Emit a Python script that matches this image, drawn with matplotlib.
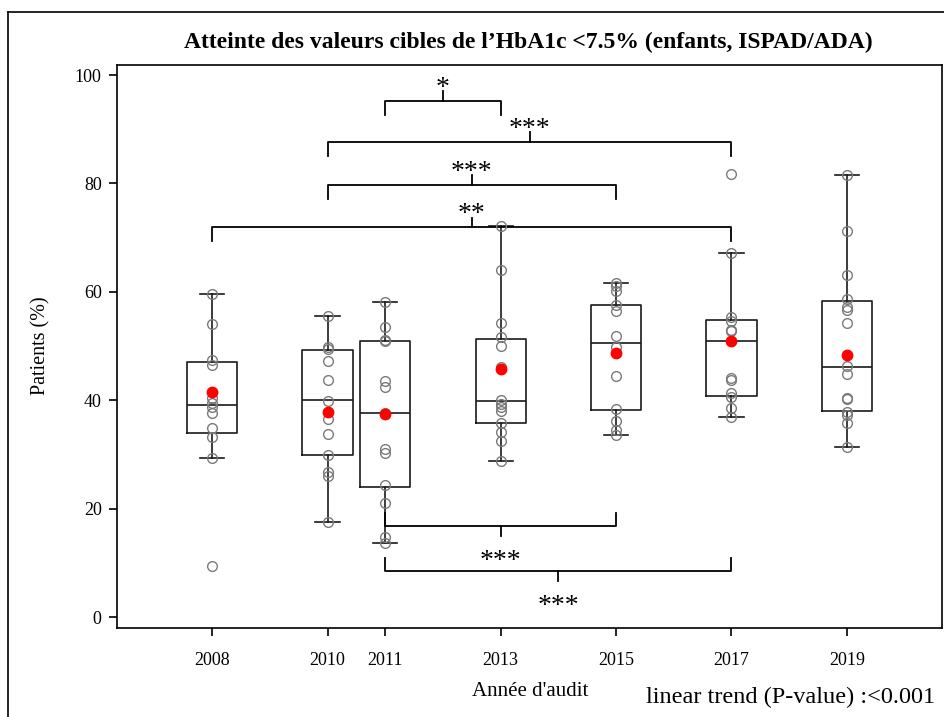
import matplotlib
matplotlib.use("Agg")
import matplotlib.pyplot as plt
from matplotlib.lines import Line2D

plt.rcParams["font.family"] = ["Liberation Serif", "DejaVu Serif"]

# --- Données : pourcentage de patients à l'objectif, par centre et par année ---
years = [2008, 2010, 2011, 2013, 2015, 2017, 2019]

pts_2008 = [59.6, 54.0, 47.4, 46.5, 40.4, 39.5, 38.8, 37.7, 34.9, 33.3, 29.3, 9.4]
pts_2010 = [55.6, 49.9, 49.5, 47.3, 43.8, 39.9, 36.6, 33.8, 29.9, 26.8, 26.1, 17.6]
pts_2011 = [58.2, 53.6, 51.2, 50.9, 43.6, 42.5, 37.7, 31.0, 30.3, 24.4, 21.1, 14.8, 13.6]
pts_2013 = [72.1, 64.1, 54.3, 51.6, 50.1, 46.2, 40.1, 39.4, 38.8, 38.1, 35.9, 34.2, 32.5, 28.8]
pts_2015 = [61.7, 61.0, 60.1, 57.5, 56.4, 51.9, 49.9, 44.5, 38.4, 36.2, 34.6, 33.6]
pts_2017 = [81.7, 67.1, 55.3, 54.7, 53.0, 52.7, 44.2, 43.8, 41.4, 40.7, 38.6, 37.0]
pts_2019 = [81.5, 71.2, 63.2, 58.6, 57.3, 56.6, 54.3, 46.4, 44.9, 40.5, 40.3, 37.9, 37.3, 35.9, 31.4]
points = [pts_2008, pts_2010, pts_2011, pts_2013, pts_2015, pts_2017, pts_2019]

# statistiques des boîtes
q1 = [34.0, 30.0, 24.0, 35.9, 38.3, 40.8, 38.1]
medians = [39.2, 40.0, 37.7, 39.9, 50.6, 51.0, 46.2]
q3 = [47.0, 49.2, 51.0, 51.4, 57.5, 54.9, 58.4]
whis_lo = [29.3, 17.6, 13.6, 28.8, 33.6, 37.0, 31.4]
whis_hi = [59.6, 55.6, 58.2, 72.1, 61.7, 67.1, 81.5]
means = [41.6, 37.9, 37.4, 45.8, 48.8, 51.0, 48.4]

# comparaisons par paires : (année 1, année 2, hauteur, sens, étiquette)
comparisons = [
    (2011, 2013, 95.2, "up", "*"),
    (2010, 2017, 87.6, "up", "***"),
    (2010, 2015, 79.7, "up", "***"),
    (2008, 2017, 71.9, "up", "**"),
    (2011, 2015, 16.8, "down", "***"),
    (2011, 2017, 8.5, "down", "***"),
]

fig = plt.figure(figsize=(9.45, 7.17), dpi=100)
ax = fig.add_axes([117 / 945, 1 - 628 / 717, 825 / 945, 563 / 717])

stats = []
for i in range(len(years)):
    stats.append({"q1": q1[i], "med": medians[i], "q3": q3[i],
                  "whislo": whis_lo[i], "whishi": whis_hi[i], "fliers": []})

dark = "#1a1a1a"
ax.bxp(stats, positions=years, widths=0.87, showfliers=False, showcaps=True,
       boxprops=dict(color=dark, linewidth=1.2),
       medianprops=dict(color=dark, linewidth=1.2),
       whiskerprops=dict(color=dark, linewidth=1.2),
       capprops=dict(color=dark, linewidth=1.2),
       capwidths=0.42, manage_ticks=False)

for yr, vals in zip(years, points):
    ax.plot([yr] * len(vals), vals, linestyle="none", marker="o", markersize=7,
            markerfacecolor="none", markeredgecolor="#7a7a7a", markeredgewidth=1.0,
            zorder=3)

ax.plot(years, means, linestyle="none", marker="o", markersize=7.5,
        color="#ff0000", zorder=4)

# --- crochets de significativité ---
leg = 2.5
tick = 1.8
star_shift = 2.2  # l'astérisque Times est dessiné au-dessus de la ligne de base
for x1, x2, y, side, label in comparisons:
    xm = (x1 + x2) / 2
    if side == "up":
        ax.plot([x1, x1, x2, x2], [y - leg, y, y, y - leg], color="black", lw=1.3)
        ax.plot([xm, xm], [y, y + tick], color="black", lw=1.3)
        ax.text(xm, y + tick + 1.5 - star_shift, label, ha="center", va="baseline", fontsize=20)
    else:
        ax.plot([x1, x1, x2, x2], [y + leg, y, y, y + leg], color="black", lw=1.3)
        ax.plot([xm, xm], [y, y - tick], color="black", lw=1.3)
        ax.text(xm, y - tick - 3.7 - star_shift, label, ha="center", va="baseline", fontsize=20)

ax.set_xlim(2006.35, 2020.65)
ax.set_ylim(-2.0, 101.85)
ax.set_xticks(years)
ax.set_xticklabels([str(y) for y in years])
ax.set_yticks([0, 20, 40, 60, 80, 100])
ax.tick_params(direction="out", length=6, width=1.2, labelsize=13)
ax.tick_params(axis="x", pad=11)
ax.tick_params(axis="y", pad=5)
for sp in ax.spines.values():
    sp.set_linewidth(1.2)

fig.text(0.559, 1 - 42 / 717, "Atteinte des valeurs cibles de l’HbA1c <7.5% (enfants, ISPAD/ADA)",
         ha="center", va="center", fontsize=17, fontweight="bold")
fig.text(41 / 945, 1 - 346 / 717, "Patients (%)", rotation=90, ha="center", va="center", fontsize=14.5)
fig.text(530 / 945, 1 - 692 / 717, "Année d'audit", ha="center", va="center", fontsize=15)
fig.text(935 / 945, 1 - 697 / 717, "linear trend (P-value) :<0.001", ha="right", va="center", fontsize=17.5)

# cadre extérieur (bords gauche et haut)
fig.add_artist(Line2D([8 / 945, 8 / 945], [0, 1 - 12 / 717], color="black", lw=1.2,
                      transform=fig.transFigure))
fig.add_artist(Line2D([8 / 945, 1], [1 - 12 / 717, 1 - 12 / 717], color="black", lw=1.2,
                      transform=fig.transFigure))

fig.savefig("out.png", dpi=100)
